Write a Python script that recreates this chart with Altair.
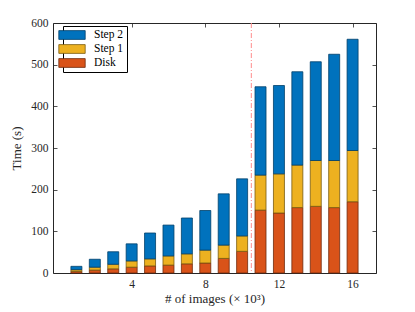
import altair as alt
import pandas as pd

images_k = list(range(1, 17))
disk = [4, 7, 10, 14, 17, 19, 22, 24, 35, 52, 151, 144, 157, 160, 157, 171]
step1 = [4, 7, 11, 15, 17, 22, 24, 31, 32, 37, 84, 94, 102, 110, 113, 123]
step2 = [8, 19, 30, 41, 62, 74, 86, 95, 123, 137, 212, 212, 224, 237, 255, 267]
series_names = ["Step 2", "Step 1", "Disk"]
series_colors = ["#0072BD", "#EDB120", "#D95319"]
series_strokes = ["#00406A", "#7A5C10", "#6E2A0C"]
split_at = [10.5]

rows = []
for i, n in enumerate(images_k):
    rows.append({"n": n, "series": "Disk", "order": 0, "time": disk[i]})
    rows.append({"n": n, "series": "Step 1", "order": 1, "time": step1[i]})
    rows.append({"n": n, "series": "Step 2", "order": 2, "time": step2[i]})
df = pd.DataFrame(rows)
line_df = pd.DataFrame({"x": split_at})

W, H = 323, 250
FONT = "Liberation Serif"
xscale = alt.Scale(domain=[0, 17], nice=False, zero=False)
yscale = alt.Scale(domain=[0, 600], nice=False)

bars = alt.Chart(df).mark_bar(size=11, strokeWidth=0.8).encode(
    x=alt.X("n:Q", scale=xscale,
            axis=alt.Axis(values=[4, 8, 12, 16], ticks=False, domain=False, grid=False,
                          title="# of images (× 10³)", labelPadding=5, titlePadding=3)),
    y=alt.Y("time:Q", stack="zero", scale=yscale,
            axis=alt.Axis(values=[0, 100, 200, 300, 400, 500, 600], ticks=False, domain=False,
                          grid=False, title="Time (s)", labelPadding=5, titlePadding=7)),
    color=alt.Color("series:N",
                    scale=alt.Scale(domain=series_names, range=series_colors),
                    legend=alt.Legend(title=None, orient="none", legendX=10, legendY=3,
                                      symbolType="M-2.4,-0.8L2.4,-0.8L2.4,0.8L-2.4,0.8Z",
                                      symbolSize=121, symbolStrokeColor="#333333",
                                      symbolStrokeWidth=0.8, symbolOpacity=1,
                                      labelFont=FONT, labelFontSize=11.5, labelColor="#000000",
                                      labelFontWeight="normal",
                                      strokeColor="#000000", fillColor="#ffffff",
                                      padding=3, rowPadding=2, labelOffset=16)),
    stroke=alt.Stroke("series:N",
                      scale=alt.Scale(domain=series_names, range=series_strokes),
                      legend=None),
    order=alt.Order("order:Q", sort="ascending"),
)

tick_axis = dict(labels=False, ticks=True, tickSize=4, domain=False, grid=False, title=None,
                 tickColor="#262626", tickWidth=0.8)

ticks_a = alt.Chart(df).mark_point(opacity=0).encode(
    x=alt.X("n:Q", scale=xscale,
            axis=alt.Axis(orient="top", offset=-H, values=[4, 8, 12, 16], **tick_axis)),
    y=alt.Y("time:Q", scale=yscale,
            axis=alt.Axis(orient="right", offset=-W, values=[0, 100, 200, 300, 400, 500, 600], **tick_axis)),
)
ticks_b = alt.Chart(df).mark_point(opacity=0).encode(
    x=alt.X("n:Q", scale=xscale,
            axis=alt.Axis(orient="bottom", offset=-H, values=[4, 8, 12, 16], **tick_axis)),
    y=alt.Y("time:Q", scale=yscale,
            axis=alt.Axis(orient="left", offset=-W, values=[0, 100, 200, 300, 400, 500, 600], **tick_axis)),
)

rule = alt.Chart(line_df).mark_rule(color="#FF8C8C", strokeWidth=1, strokeDash=[5, 2, 1, 2]).encode(
    x=alt.X("x:Q", scale=xscale, axis=None)
)

chart = alt.layer(bars, rule, ticks_a, ticks_b).resolve_axis(
    x="independent", y="independent"
).properties(
    width=W, height=H, autosize="none", background="#ffffff",
    padding={"left": 45, "top": 15, "right": 31, "bottom": 35},
).configure_view(
    stroke="#262626", strokeWidth=1
).configure_axis(
    labelFont=FONT, titleFont=FONT, labelFontSize=11.5, titleFontSize=13,
    labelColor="#262626", titleColor="#262626", titleFontWeight="normal"
)

chart.save("out.html", embed_options={"renderer": "svg", "actions": False})
